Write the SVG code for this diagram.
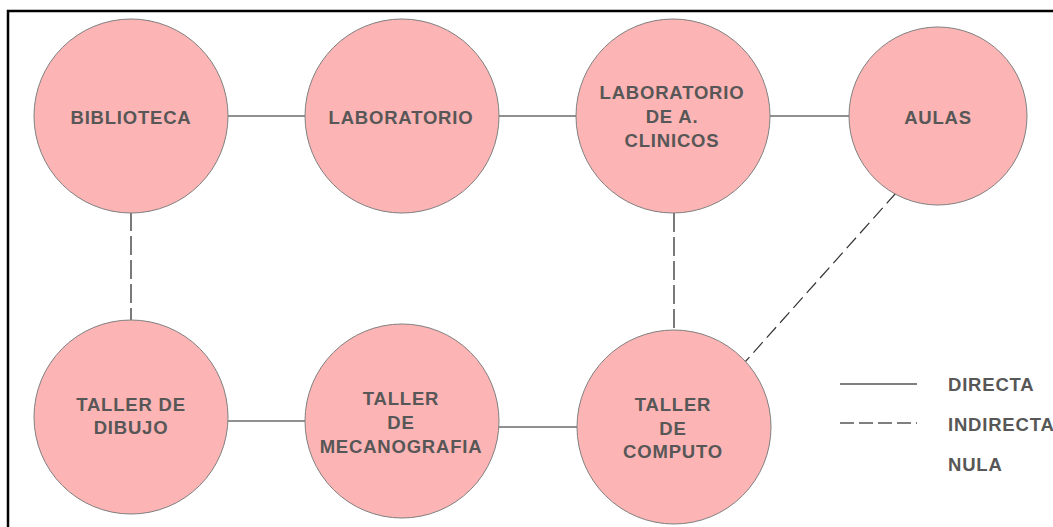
<svg xmlns="http://www.w3.org/2000/svg" width="1053" height="527" viewBox="0 0 1053 527">
<style>
.node circle{fill:#FDB4B4;stroke:#808080;stroke-width:1}
.lbl{font-family:"Liberation Sans",Arial,sans-serif;font-weight:bold;font-size:18.5px;letter-spacing:0.8px;fill:#575757;text-anchor:middle}
.leg{font-family:"Liberation Sans",Arial,sans-serif;font-weight:bold;font-size:18.5px;letter-spacing:0.8px;fill:#575757}
.solid{stroke:#222;stroke-width:1.2;fill:none}
.dash{stroke:#222;stroke-width:1.2;fill:none;stroke-dasharray:19 5}
.dash2{stroke:#333;stroke-width:1.2;fill:none;stroke-dasharray:14 6}
</style>
<rect x="0" y="0" width="1053" height="527" fill="#fff"/>
<rect x="8" y="11" width="1100" height="600" fill="none" stroke="#000" stroke-width="2.5"/>
<g id="connectors">
<line class="solid" x1="228" y1="116" x2="305" y2="116"/>
<line class="solid" x1="499" y1="116" x2="576" y2="116"/>
<line class="solid" x1="770" y1="116" x2="850" y2="116"/>
<line class="solid" x1="228" y1="421" x2="305" y2="421"/>
<line class="solid" x1="499" y1="427" x2="577" y2="427"/>
<line class="dash" x1="131" y1="212" x2="131" y2="320"/>
<line class="dash" x1="674" y1="213" x2="674" y2="330"/>
<line class="dash2" x1="896" y1="193" x2="745" y2="362"/>
</g>
<g id="biblioteca" class="node"><circle cx="131" cy="116" r="97"/><text class="lbl" x="131" y="124">BIBLIOTECA</text></g>
<g id="laboratorio" class="node"><circle cx="402" cy="116" r="97"/><text class="lbl" x="401" y="124">LABORATORIO</text></g>
<g id="lab-clinicos" class="node"><circle cx="673" cy="116" r="97"/><text class="lbl" x="672" y="99">LABORATORIO</text><text class="lbl" x="672" y="123">DE A.</text><text class="lbl" x="672" y="147">CLINICOS</text></g>
<g id="aulas" class="node"><circle cx="938" cy="116" r="89"/><text class="lbl" x="938" y="124">AULAS</text></g>
<g id="taller-dibujo" class="node"><circle cx="131" cy="417" r="97"/><text class="lbl" x="131" y="411">TALLER DE</text><text class="lbl" x="131" y="434">DIBUJO</text></g>
<g id="taller-mecanografia" class="node"><circle cx="402" cy="421" r="97"/><text class="lbl" x="401" y="405">TALLER</text><text class="lbl" x="401" y="429">DE</text><text class="lbl" x="401" y="453">MECANOGRAFIA</text></g>
<g id="taller-computo" class="node"><circle cx="674" cy="427" r="97"/><text class="lbl" x="673" y="411">TALLER</text><text class="lbl" x="673" y="435">DE</text><text class="lbl" x="673" y="458">COMPUTO</text></g>
<g id="legend">
<line x1="840" y1="384" x2="917" y2="384" stroke="#555" stroke-width="1.3"/>
<line x1="840" y1="423" x2="917" y2="423" stroke="#555" stroke-width="1.3" stroke-dasharray="14 5"/>
<text class="leg" x="948" y="391">DIRECTA</text>
<text class="leg" x="948" y="431">INDIRECTA</text>
<text class="leg" x="948" y="471">NULA</text>
</g>
</svg>
